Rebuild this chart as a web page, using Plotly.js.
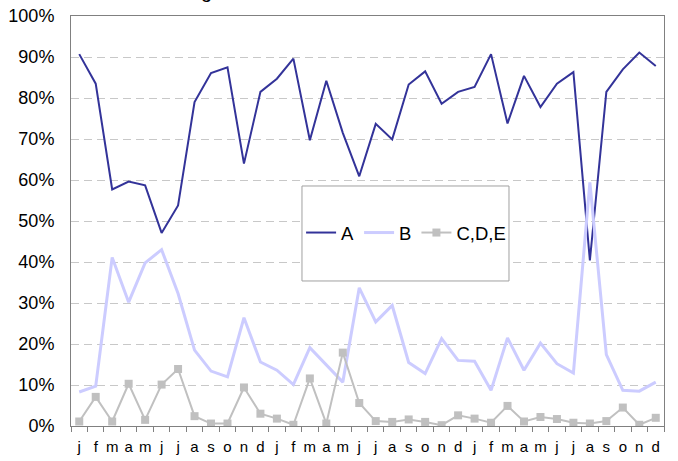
<!DOCTYPE html>
<html>
<head>
<meta charset="utf-8">
<script src="https://cdn.plot.ly/plotly-3.0.1.min.js"></script>
<style>
html,body{margin:0;padding:0;background:#fff;}
#chart{width:678px;height:461px;}
</style>
</head>
<body>
<div id="chart"></div>
<script>
const monthLabels = ["j","f","m","a","m","j","j","a","s","o","n","d",
                     "j","f","m","a","m","j","j","a","s","o","n","d",
                     "j","f","m","a","m","j","j","a","s","o","n","d"];
const seriesA = [90.7,83.5,57.7,59.6,58.7,47.1,53.8,79.0,86.1,87.5,64.0,81.5,
                 84.7,89.6,69.7,84.2,71.5,60.9,73.7,69.9,83.3,86.5,78.6,81.5,
                 82.7,90.7,73.8,85.4,77.8,83.5,86.3,40.4,81.5,87.0,91.1,87.8];
const seriesB = [8.3,9.7,41.1,30.2,39.8,43.0,32.3,18.5,13.4,12.0,26.4,15.6,
                 13.6,10.1,19.1,14.8,10.7,33.7,25.4,29.4,15.5,12.8,21.3,16.0,
                 15.8,8.7,21.5,13.6,20.2,15.2,12.9,59.4,17.4,8.7,8.5,10.7];
const seriesCDE = [1.1,7.1,1.1,10.3,1.5,10.1,13.9,2.4,0.6,0.6,9.4,3.0,
                   1.8,0.3,11.6,0.6,17.9,5.6,1.2,1.0,1.6,1.0,0.2,2.6,
                   1.8,0.8,4.9,1.1,2.2,1.7,0.8,0.6,1.2,4.5,0.3,2.0];
const seriesNames = ["A","B","C,D,E"];
const yTickVals = [0,10,20,30,40,50,60,70,80,90,100];
const yTickText = ["0%","10%","20%","30%","40%","50%","60%","70%","80%","90%","100%"];

const idx = monthLabels.map((_, i) => i);
const boundaries = monthLabels.map((_, i) => i - 0.5).concat([monthLabels.length - 0.5]);

const traces = [
  {x: idx, y: seriesA, name: seriesNames[0], type: "scatter", mode: "lines",
   line: {color: "#333399", width: 2}},
  {x: idx, y: seriesB, name: seriesNames[1], type: "scatter", mode: "lines",
   line: {color: "#CCCCFF", width: 3}},
  {x: idx, y: seriesCDE, name: seriesNames[2], type: "scatter", mode: "lines+markers",
   line: {color: "#C0C0C0", width: 2},
   marker: {symbol: "square", size: 8, color: "#C0C0C0"}}
];

const font = "Liberation Sans, Arial, sans-serif";
const layout = {
  width: 678, height: 461,
  margin: {l: 71, r: 14, t: 16, b: 35},
  paper_bgcolor: "#fff", plot_bgcolor: "#fff",
  font: {family: font, color: "#000"},
  showlegend: true,
  legend: {
    orientation: "h", x: 0.388, xanchor: "left", y: 0.4707, yanchor: "middle",
    bgcolor: "rgba(0,0,0,0)", borderwidth: 0,
    font: {family: font, size: 18.5, color: "#000"},
    itemwidth: 30
  },
  xaxis: {
    range: [-0.5, monthLabels.length - 0.5],
    tickmode: "array", tickvals: idx, ticktext: monthLabels,
    ticks: "", showgrid: false, zeroline: false, ticklabelstandoff: 7,
    showline: true, linecolor: "#808080", linewidth: 1, mirror: true,
    tickfont: {family: font, size: 15, color: "#000"}
  },
  xaxis2: {
    overlaying: "x", matches: "x", anchor: "y", side: "bottom",
    range: [-0.5, monthLabels.length - 0.5],
    tickmode: "array", tickvals: boundaries, showticklabels: false,
    ticks: "outside", ticklen: 5, tickcolor: "#808080", tickwidth: 1,
    showgrid: false, zeroline: false, showline: false
  },
  yaxis: {
    range: [0, 100], tickmode: "array", tickvals: yTickVals, ticktext: yTickText,
    showgrid: true, gridcolor: "#C8C8C8", griddash: "8px,5px", gridwidth: 1,
    zeroline: false, showline: true, linecolor: "#808080", linewidth: 1, mirror: true,
    ticks: "", ticklabelstandoff: 12,
    tickfont: {family: font, size: 18, color: "#000"}
  },
  shapes: [{
    type: "rect", xref: "paper", yref: "paper",
    x0: 0.3895, x1: 0.7386, y0: 0.3537, y1: 0.5854,
    fillcolor: "#fff", line: {color: "#A0A0A0", width: 1}, layer: "above"
  }],
  annotations: [{
    text: "g", xref: "paper", yref: "paper", x: 0.229, y: 1.03,
    xanchor: "center", yanchor: "bottom", showarrow: false,
    font: {family: font, size: 20, color: "#000"}
  }]
};

// invisible trace to activate xaxis2
traces.push({x: [0], y: [null], xaxis: "x2", yaxis: "y", showlegend: false,
             hoverinfo: "skip", mode: "lines", type: "scatter"});

Plotly.newPlot("chart", traces, layout, {displayModeBar: false, staticPlot: true});
</script>
</body>
</html>
